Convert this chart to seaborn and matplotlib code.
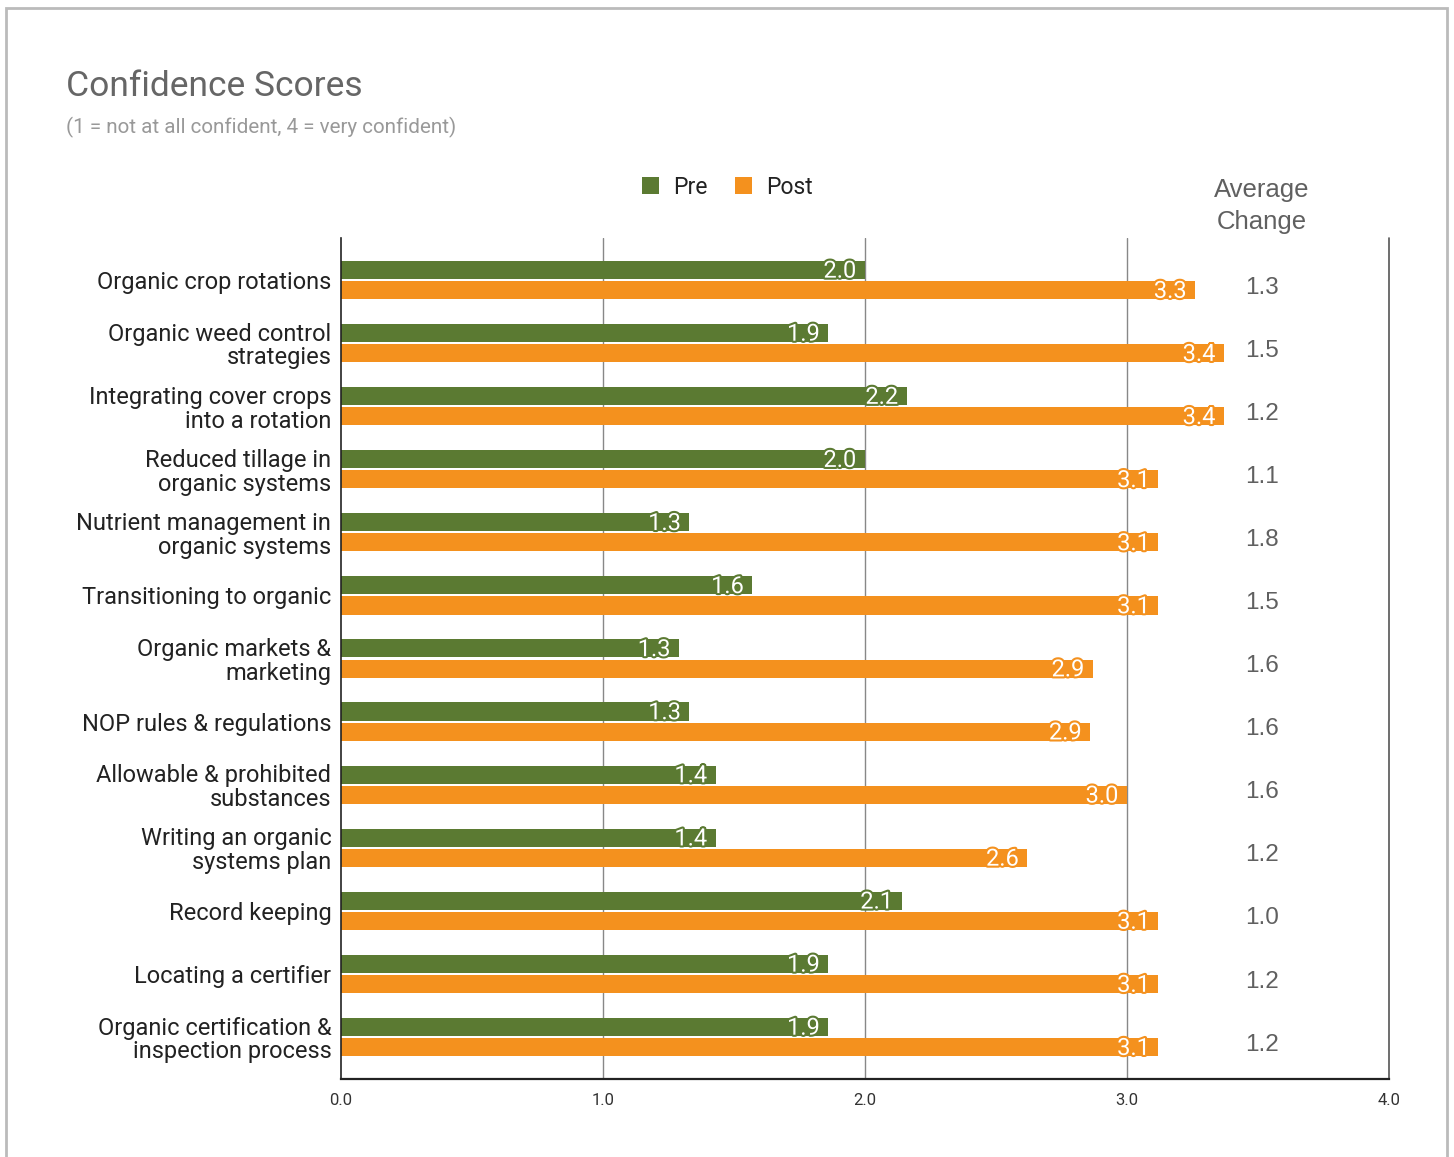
import matplotlib
matplotlib.use("Agg")
import matplotlib.pyplot as plt
import matplotlib.patheffects as pe
from matplotlib.patches import Rectangle, Patch
import seaborn as sns
import pandas as pd

categories = [
    "Organic crop rotations",
    "Organic weed control\nstrategies",
    "Integrating cover crops\ninto a rotation",
    "Reduced tillage in\norganic systems",
    "Nutrient management in\norganic systems",
    "Transitioning to organic",
    "Organic markets &\nmarketing",
    "NOP rules & regulations",
    "Allowable & prohibited\nsubstances",
    "Writing an organic\nsystems plan",
    "Record keeping",
    "Locating a certifier",
    "Organic certification &\ninspection process",
]
pre_values = [2.00, 1.86, 2.16, 2.00, 1.33, 1.57, 1.29, 1.33, 1.43, 1.43, 2.14, 1.86, 1.86]
post_values = [3.26, 3.37, 3.37, 3.12, 3.12, 3.12, 2.87, 2.86, 3.00, 2.62, 3.12, 3.12, 3.12]
avg_change = [1.3, 1.5, 1.2, 1.1, 1.8, 1.5, 1.6, 1.6, 1.6, 1.2, 1.0, 1.2, 1.2]
series_names = ["Pre", "Post"]
x_ticks = [0.0, 1.0, 2.0, 3.0, 4.0]

GREEN = "#5b7a32"
ORANGE = "#f4911e"
palette = {"Pre": GREEN, "Post": ORANGE}

sns.set_theme(style="white")
plt.rcParams["font.family"] = ["Roboto", "DejaVu Sans"]

df = pd.DataFrame({
    "Topic": categories * 2,
    "Score": pre_values + post_values,
    "Series": ["Pre"] * len(categories) + ["Post"] * len(categories),
})

fig = plt.figure(figsize=(14.54, 11.57), dpi=100)
ax = fig.add_axes([341 / 1454, 1 - 1079 / 1157, (1389 - 341) / 1454, (1079 - 238) / 1157])

sns.barplot(data=df, y="Topic", x="Score", hue="Series", hue_order=series_names,
            order=categories, palette=palette, orient="h", width=0.64, gap=0.1,
            ax=ax, legend=False, saturation=1, edgecolor="none")

ax.set_xlim(0, 4)
ax.set_ylim(len(categories) - 1 + 0.665, -0.665)
ax.set_xticks(x_ticks)
ax.set_xticklabels([f"{t:.1f}" for t in x_ticks], fontsize=12, color="#333333")
ax.tick_params(axis="x", length=0, pad=10)
ax.tick_params(axis="y", length=0, pad=7)
for lbl in ax.get_yticklabels():
    lbl.set_fontsize(17)
    lbl.set_color("#222222")
    lbl.set_linespacing(1.05)
ax.set_xlabel("")
ax.set_ylabel("")

for x in [1.0, 2.0, 3.0]:
    ax.axvline(x, color="#888888", lw=1.0, zorder=0)
ax.axvline(4.0, color="#555555", lw=1.2, zorder=0, clip_on=False)
for side in ["top", "right"]:
    ax.spines[side].set_visible(False)
ax.spines["left"].set_color("#222222")
ax.spines["left"].set_linewidth(1.2)
ax.spines["bottom"].set_color("#222222")
ax.spines["bottom"].set_linewidth(1.6)

# value labels inside bars
for container, color in zip(ax.containers, [GREEN, ORANGE]):
    for bar in container:
        w = bar.get_width()
        yc = bar.get_y() + bar.get_height() / 2
        ax.text(w - 0.033, yc + 0.02, f"{w:.1f}", ha="right", va="center",
                fontsize=17, color="white",
                path_effects=[pe.withStroke(linewidth=3, foreground=color)], zorder=5)

# average change column
xc = (1262 - 341) / 262
side_font = ["Liberation Sans", "DejaVu Sans"]
for i, v in enumerate(avg_change):
    ax.text(xc, i + 0.12, f"{v:.1f}", ha="center", va="center", fontsize=17.5,
            color="#606060", family=side_font)
ax.text(xc, 1 + 32 / 841, "Average\nChange", transform=ax.get_xaxis_transform(),
        ha="center", va="center", fontsize=18.5, color="#606060", linespacing=1.4,
        family=side_font)

# legend
handles = [Patch(facecolor=GREEN, edgecolor="none"), Patch(facecolor=ORANGE, edgecolor="none")]
fig.legend(handles, series_names, loc="center", bbox_to_anchor=(727 / 1454, 1 - 187 / 1157),
           ncol=2, frameon=False, fontsize=16.5, handlelength=0.75, handleheight=0.75,
           handletextpad=0.6, columnspacing=1.2, labelcolor="#222222")

fig.text(66 / 1454, 1 - 86 / 1157, "Confidence Scores", fontsize=25.5, color="#666666",
         ha="left", va="center")
fig.text(66 / 1454, 1 - 127 / 1157, "(1 = not at all confident, 4 = very confident)",
         fontsize=14.9, color="#999999", ha="left", va="center")

fig.patches.append(Rectangle((6 / 1454, -0.02), (1447 - 6) / 1454, 1.02 - 8 / 1157,
                             transform=fig.transFigure, fill=False, edgecolor="#bbbbbb",
                             linewidth=2))

fig.savefig("out.png", dpi=100)
